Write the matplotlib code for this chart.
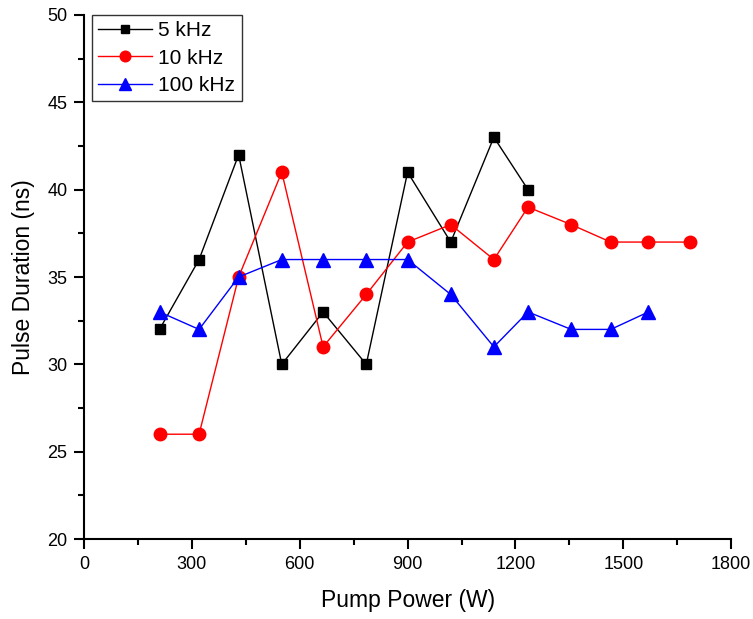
import matplotlib.pyplot as plt
from matplotlib.ticker import MultipleLocator

plt.rcParams['font.family'] = ['Liberation Sans', 'DejaVu Sans']

power_5k = [210, 320, 430, 550, 665, 785, 900, 1020, 1140, 1235]
dur_5k = [32, 36, 42, 30, 33, 30, 41, 37, 43, 40]

power_10k = [210, 320, 430, 550, 665, 785, 900, 1020, 1140, 1235, 1355, 1465, 1570, 1685]
dur_10k = [26, 26, 35, 41, 31, 34, 37, 38, 36, 39, 38, 37, 37, 37]

power_100k = [210, 320, 430, 550, 665, 785, 900, 1020, 1140, 1235, 1355, 1465, 1570]
dur_100k = [33, 32, 35, 36, 36, 36, 36, 34, 31, 33, 32, 32, 33]

fig = plt.figure(figsize=(7.53, 6.19), dpi=100)
ax = fig.add_axes([0.1116, 0.1292, 0.8594, 0.8466])

ax.plot(power_5k, dur_5k, color='black', marker='s', ms=7.5, lw=1, label='5 kHz')
ax.plot(power_10k, dur_10k, color='red', marker='o', ms=9, lw=1, label='10 kHz')
ax.plot(power_100k, dur_100k, color='blue', marker='^', ms=9.5, lw=1, label='100 kHz')

ax.set_xlim(0, 1800)
ax.set_ylim(20, 50)
ax.xaxis.set_major_locator(MultipleLocator(300))
ax.xaxis.set_minor_locator(MultipleLocator(150))
ax.yaxis.set_major_locator(MultipleLocator(5))
ax.yaxis.set_minor_locator(MultipleLocator(2.5))
ax.tick_params(which='major', direction='out', length=7, width=1.5, labelsize=13, pad=5)
ax.tick_params(which='minor', direction='out', length=4, width=1.5)

for side in ['top', 'right']:
    ax.spines[side].set_visible(False)
for side in ['left', 'bottom']:
    ax.spines[side].set_linewidth(1.5)

ax.set_xlabel('Pump Power (W)', fontsize=16.5, labelpad=12)
ax.set_ylabel('Pulse Duration (ns)', fontsize=16.5, labelpad=9)

leg = ax.legend(loc='upper left', bbox_to_anchor=(0.012, 1.0), fontsize=15,
                frameon=True, fancybox=False, edgecolor='black', markerscale=0.85,
                handlelength=2.6, borderpad=0.3, labelspacing=0.4, handletextpad=0.3,
                borderaxespad=0.0)
leg.get_frame().set_linewidth(1)

fig.savefig('out.png', dpi=100)
